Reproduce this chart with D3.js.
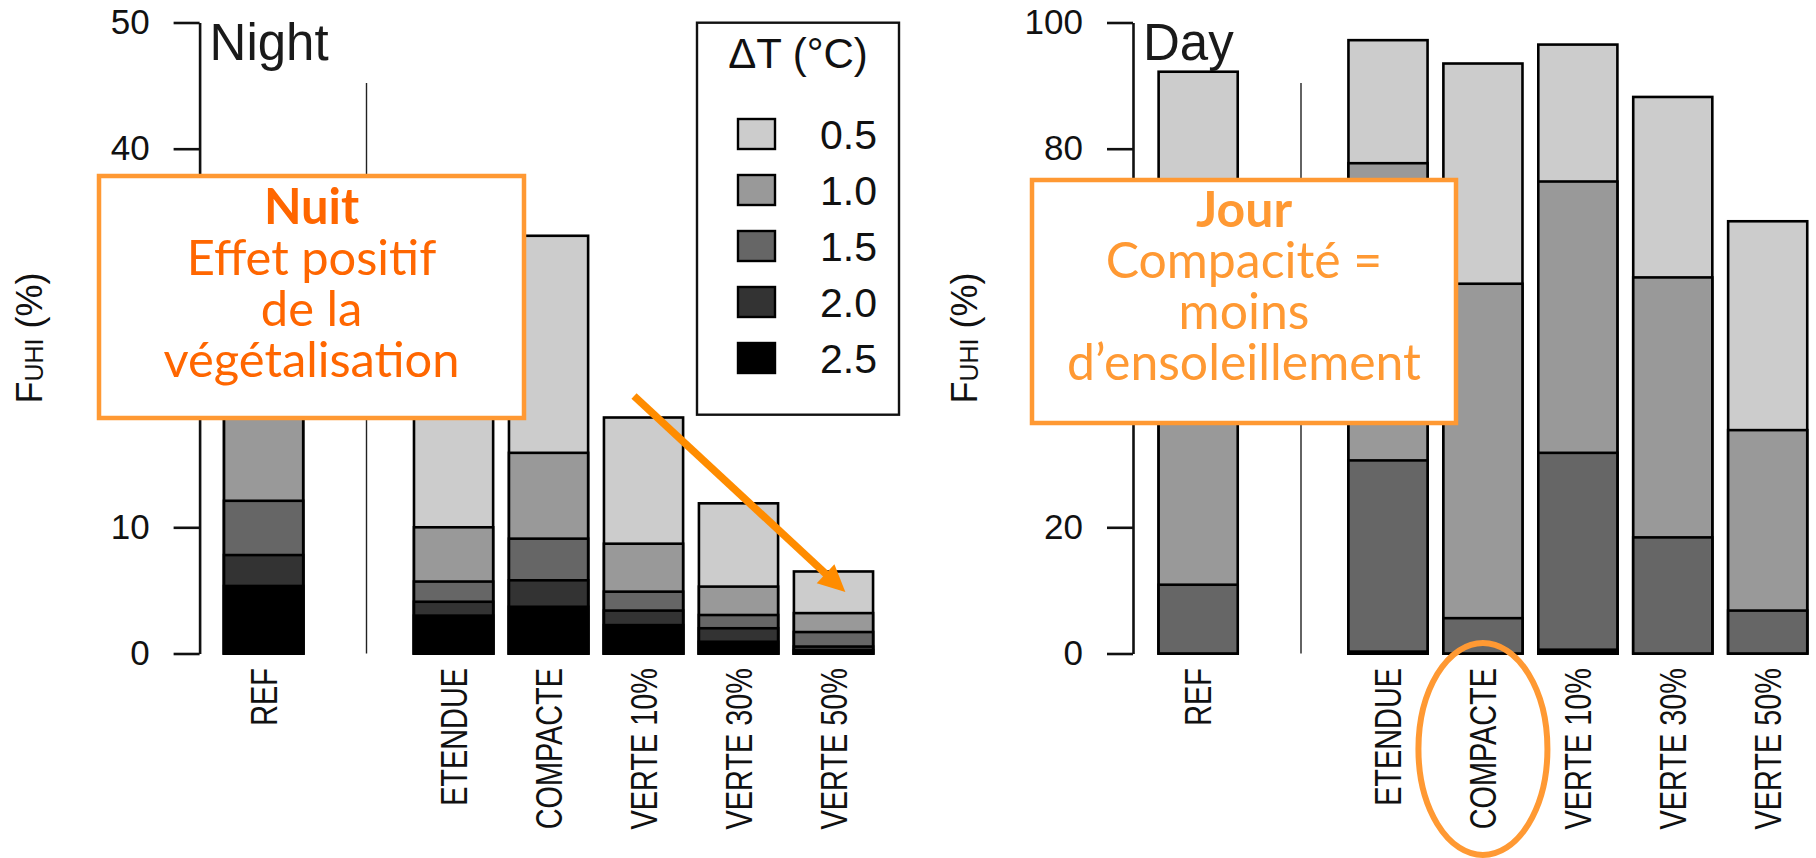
<!DOCTYPE html>
<html>
<head>
<meta charset="utf-8">
<script src="https://cdn.jsdelivr.net/npm/d3@7"></script>
<style>
  html, body { margin: 0; padding: 0; background: #fff; }
  svg { display: block; font-family: "Liberation Sans", Arial, Helvetica, sans-serif; }
  .axis path, .axis line { stroke: #111; stroke-width: 2.6; }
  .axis text { font-size: 35px; fill: #111; font-family: "Liberation Sans", Arial, sans-serif; }
  .note text { font-family: Lato, "Open Sans", sans-serif; }
</style>
</head>
<body>
<svg id="chart" width="1816" height="858"></svg>
<script>
// ---- data -----------------------------------------------------------------
// slot 1 is the empty gap between REF and the scenarios
const scenarios = ["REF", "", "ETENDUE", "COMPACTE", "VERTE 10%", "VERTE 30%", "VERTE 50%"];
const levels    = ["0.5", "1.0", "1.5", "2.0", "2.5"];        // ΔT (°C)
const greys     = ["#cccccc", "#999999", "#666666", "#333333", "#000000"];

// F_UHI (%) for ΔT above each threshold, one value per non-empty scenario
const night05 = [34.0, 28.0, 33.1, 18.7, 11.9, 6.5];
const night10 = [22.0, 10.0, 15.9,  8.7,  5.3, 3.2];
const night15 = [12.1,  5.7,  9.1,  4.9,  3.05, 1.7];
const night20 = [ 7.8,  4.1,  5.8,  3.4,  2.0, 0.55];
const night25 = [ 5.35, 3.0,  3.7,  2.25, 0.93, 0.25];

const day05 = [92.2, 97.2, 93.5, 96.5, 88.2, 68.5];
const day10 = [60.0, 77.7, 58.6, 74.8, 59.6, 35.4];
const day15 = [10.9, 30.6,  5.6, 31.8, 18.4,  6.8];
const day20 = [ 0,    0.3,  0,    0.6,  0,    0  ];
const day25 = [ 0,    0,    0,    0.2,  0,    0  ];

const nightTicks = [0, 10, 20, 30, 40, 50];
const dayTicks   = [0, 20, 40, 60, 80, 100];

const nightNote = ["Nuit", "Effet positif", "de la", "végétalisation"];
const dayNote   = ["Jour", "Compacité =", "moins", "d’ensoleillement"];

// ---- layout ---------------------------------------------------------------
const svg = d3.select("#chart");
const Y0 = 653.5, YTOP = 22.5;
const slots = scenarios.map((s, i) => i).filter(i => scenarios[i] !== "");
const left = i => 0.2 + 1.2 * i;                 // R barplot units, space = 0.2

const panels = [
  { title: "Night", x0: 208.2, unit: 79.15, axisX: 199.6, yTitleX: 42,
    y: d3.scaleLinear([0, 50], [Y0, YTOP]), ticks: nightTicks,
    series: [night05, night10, night15, night20, night25] },
  { title: "Day", x0: 1142.8, unit: 79.1, axisX: 1133, yTitleX: 977,
    y: d3.scaleLinear([0, 100], [Y0, YTOP]), ticks: dayTicks,
    series: [day05, day10, day15, day20, day25] }
];

panels.forEach(p => {
  p.x = d3.scaleLinear([0, 8.4], [p.x0, p.x0 + 8.4 * p.unit]);
  const g = svg.append("g");

  // overlaid bars, tallest (0.5) first
  p.series.forEach((vals, li) => {
    g.append("g").selectAll("rect")
      .data(slots.map((s, j) => ({ s, v: vals[j] })).filter(d => d.v > 0))
      .join("rect")
      .attr("x", d => p.x(left(d.s)))
      .attr("width", d => p.x(left(d.s) + 1) - p.x(left(d.s)))
      .attr("y", d => p.y(d.v))
      .attr("height", d => p.y(0) - p.y(d.v))
      .attr("fill", greys[li])
      .attr("stroke", "#000").attr("stroke-width", 2.6);
  });

  // separator between REF and scenarios
  g.append("line")
    .attr("x1", p.x(2)).attr("x2", p.x(2))
    .attr("y1", 83).attr("y2", p.y(0))
    .attr("stroke", "#222").attr("stroke-width", 1.4);

  g.append("g").attr("class", "axis")
    .attr("transform", `translate(${p.axisX},0)`)
    .call(d3.axisLeft(p.y).tickValues(p.ticks).tickSize(26).tickSizeOuter(0).tickPadding(24));

  g.append("text")
    .attr("x", p.axisX + 10).attr("y", 60)
    .attr("font-size", 51).attr("fill", "#1a1a1a")
    .text(p.title);

  // rotated category labels (slightly condensed like the original)
  g.append("g").selectAll("text")
    .data(slots)
    .join("text")
    .attr("transform", s => `translate(${p.x(left(s) + 0.5)},668) rotate(-90) scale(0.78,1)`)
    .attr("text-anchor", "end").attr("dy", "0.36em")
    .attr("font-size", 37).attr("fill", "#111")
    .text(s => scenarios[s]);

  // y title F_UHI (%)
  const yt = g.append("text")
    .attr("transform", `translate(${p.yTitleX},${(Y0 + YTOP) / 2}) rotate(-90)`)
    .attr("text-anchor", "middle").attr("font-size", 36).attr("fill", "#111");
  yt.append("tspan").text("F");
  yt.append("tspan").attr("font-size", 25).attr("dy", 1).text("UHI");
  yt.append("tspan").attr("dy", -1).text(" (%)");
});

// ---- legend (night panel) -------------------------------------------------
const leg = svg.append("g");
leg.append("rect").attr("x", 697).attr("y", 22.7).attr("width", 202).attr("height", 392)
  .attr("fill", "#fff").attr("stroke", "#111").attr("stroke-width", 2.4);
leg.append("text").attr("x", 798).attr("y", 68).attr("text-anchor", "middle")
  .attr("font-size", 42).attr("fill", "#111").text("ΔT (°C)");
const ly = d3.scaleLinear([0, 4], [134, 358]);
const rows = leg.selectAll("g.row").data(levels).join("g").attr("class", "row")
  .attr("transform", (d, i) => `translate(0,${ly(i)})`);
rows.append("rect").attr("x", 738).attr("y", -15).attr("width", 37).attr("height", 30)
  .attr("fill", (d, i) => greys[i]).attr("stroke", "#000").attr("stroke-width", 2.4);
rows.append("text").attr("x", 877).attr("dy", "0.36em").attr("text-anchor", "end")
  .attr("font-size", 41).attr("fill", "#111").text(d => d);

// ---- annotations ----------------------------------------------------------
function note(box, lines, color, width) {
  const g = svg.append("g").attr("class", "note");
  g.append("rect").attr("x", box.x).attr("y", box.y).attr("width", box.w).attr("height", box.h)
    .attr("fill", "#fff").attr("stroke", "#ff9933").attr("stroke-width", 4.5);
  // fit font size so the longest line matches the original width
  const probe = g.append("text").attr("font-size", 100).text(lines[3]);
  const fs = 100 * width / probe.node().getComputedTextLength();
  probe.remove();
  g.selectAll("text").data(lines).join("text")
    .attr("x", box.x + box.w / 2)
    .attr("y", (d, i) => box.y + box.first + i * 51)
    .attr("text-anchor", "middle")
    .attr("font-size", fs)
    .attr("font-weight", (d, i) => i === 0 ? "bold" : "normal")
    .attr("fill", color)
    .text(d => d);
}
note({ x: 99, y: 176, w: 425, h: 242, first: 48 }, nightNote, "#ff6600", 296);
note({ x: 1032, y: 180, w: 424, h: 243, first: 47 }, dayNote, "#ff9933", 354);

// arrow in the night panel, anchored in data units
const pn = panels[0];
const a0 = [pn.x(5.38), pn.y(20.4)], a1 = [pn.x(8.05), pn.y(4.87)];
const ang = Math.atan2(a1[1] - a0[1], a1[0] - a0[0]);
const hl = 27, hw = 13;
const base = [a1[0] - hl * Math.cos(ang), a1[1] - hl * Math.sin(ang)];
svg.append("line")
  .attr("x1", a0[0]).attr("y1", a0[1]).attr("x2", base[0] + 2 * Math.cos(ang)).attr("y2", base[1] + 2 * Math.sin(ang))
  .attr("stroke", "#ff8c00").attr("stroke-width", 7.5);
svg.append("path")
  .attr("d", d3.line()([
    a1,
    [base[0] + hw * Math.sin(ang), base[1] - hw * Math.cos(ang)],
    [base[0] - hw * Math.sin(ang), base[1] + hw * Math.cos(ang)]
  ]) + "Z")
  .attr("fill", "#ff8c00");

// ellipse around COMPACTE in the day panel
const pd = panels[1];
svg.append("ellipse")
  .attr("cx", pd.x(left(3) + 0.5)).attr("cy", 749)
  .attr("rx", 64.5).attr("ry", 106)
  .attr("fill", "none").attr("stroke", "#ff9933").attr("stroke-width", 6);
</script>
</body>
</html>
